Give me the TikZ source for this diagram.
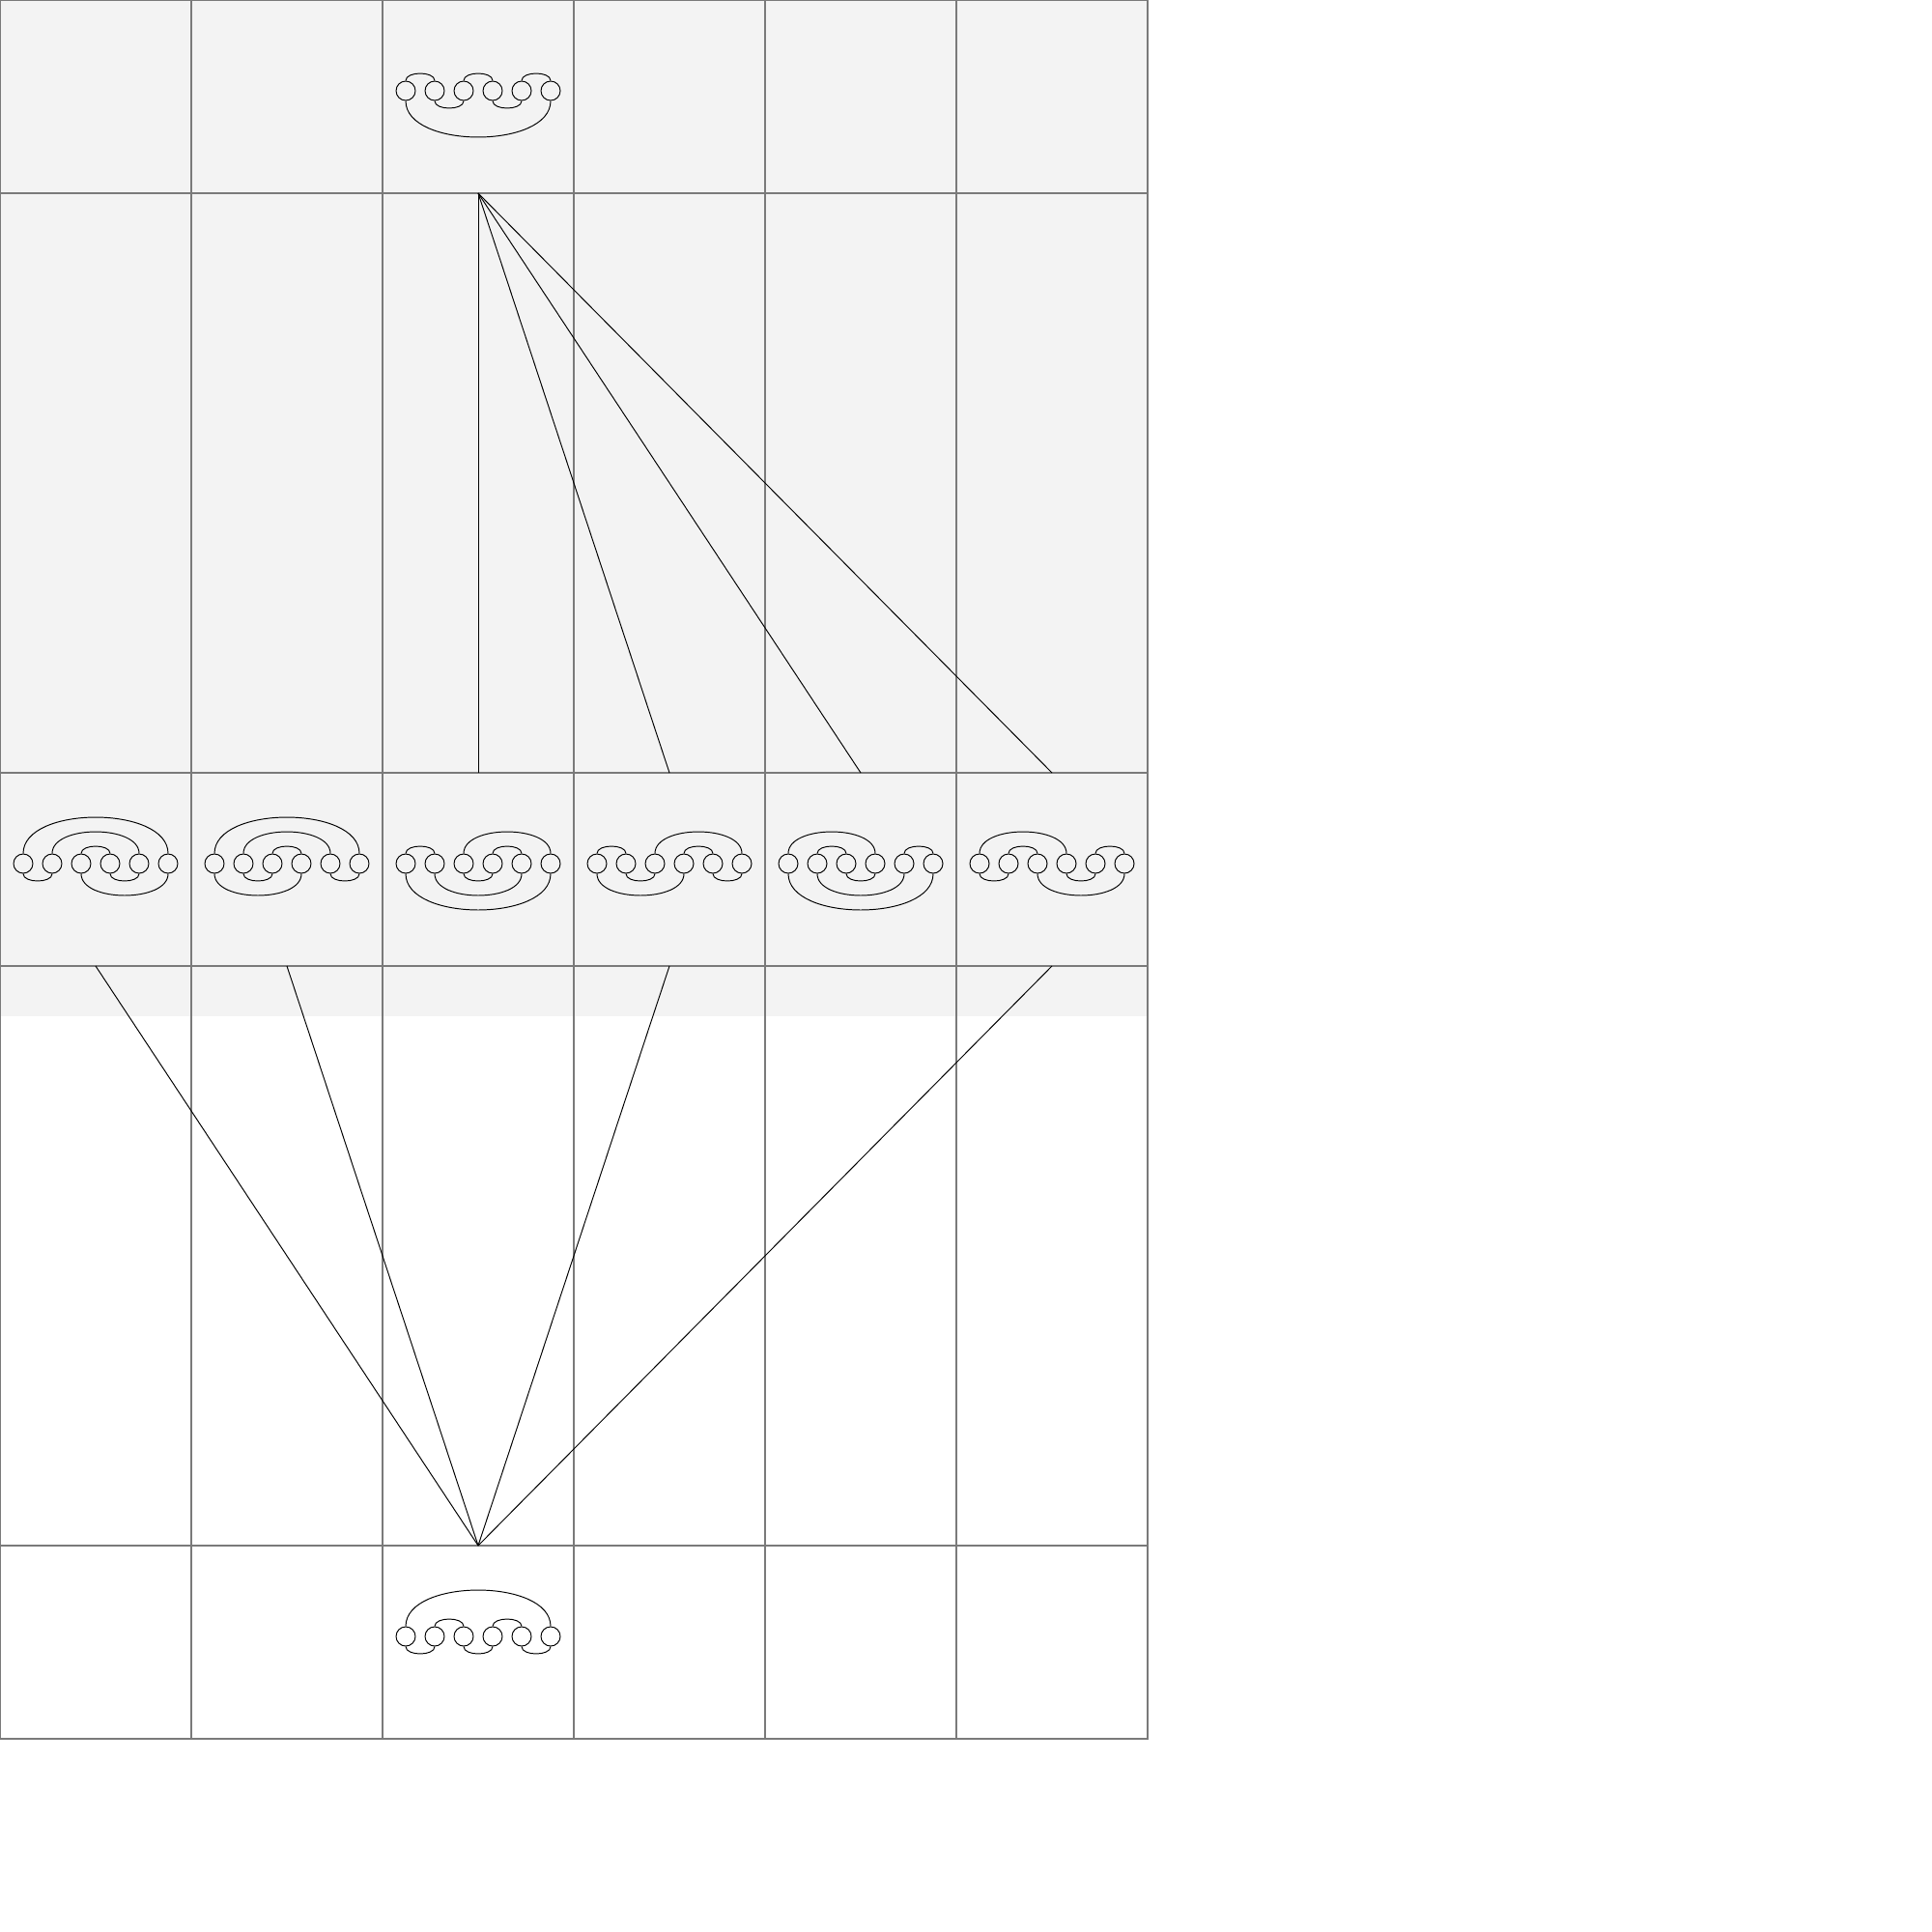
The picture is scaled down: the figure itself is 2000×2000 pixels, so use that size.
\documentclass[tikz,border=0pt]{standalone}
\usepackage{xcolor}
\usepackage{tikz}
\definecolor{panel}{HTML}{F3F3F3}
\definecolor{rule}{HTML}{7A7A7A}

\begin{document}
\begin{tikzpicture}[x=0.2mm, y=-0.2mm,
    cell/.style={draw=rule, line width=1.1pt, minimum width=39.6mm, inner sep=0pt, outer sep=0pt},
    bead/.style={draw, circle, line width=0.55pt, minimum size=4mm, inner sep=0pt},
    link/.style={line width=0.55pt}]
    \useasboundingbox (0,0) rectangle (2000,2000);
    \fill[panel] (0,0) rectangle (1188,1052);

    % --- grid ---
    \foreach \c in {0,...,5} {
        \node[cell, minimum height=40mm] (top\c) at (99+198*\c,100) {};
        \node[cell, minimum height=120mm] (up\c) at (99+198*\c,500) {};
        \node[cell, minimum height=40mm] (mid\c) at (99+198*\c,900) {};
        \node[cell, minimum height=120mm] (low\c) at (99+198*\c,1300) {};
        \node[cell, minimum height=40mm] (bot\c) at (99+198*\c,1700) {};
    }

    % --- connectors ---
    \foreach \c in {2,3,4,5} \draw[link] (top2.south) -- (mid\c.north);
    \foreach \c in {0,1,3,5} \draw[link] (mid\c.south) -- (bot2.north);

    % --- top diagram ---
    \foreach \i in {1,...,6} \node[bead] (t\i) at (390+30*\i,94) {};
    \foreach \a/\b in {1/2,3/4,5/6}
        \draw[link] (t\a.north) .. controls +(0,10*\a-10*\b) and +(0,10*\a-10*\b) .. (t\b.north);
    \foreach \a/\b in {2/3,4/5,1/6}
        \draw[link] (t\a.south) .. controls +(0,10*\b-10*\a) and +(0,10*\b-10*\a) .. (t\b.south);

    % --- middle row ---
    \foreach \c in {0,...,5}
        \foreach \i in {1,...,6} \node[bead] (m\c-\i) at (198*\c+30*\i-6,894) {};

    \foreach \a/\b in {1/6,2/5,3/4}
        \draw[link] (m0-\a.north) .. controls +(0,10*\a-10*\b) and +(0,10*\a-10*\b) .. (m0-\b.north);
    \foreach \a/\b in {1/2,3/6,4/5}
        \draw[link] (m0-\a.south) .. controls +(0,10*\b-10*\a) and +(0,10*\b-10*\a) .. (m0-\b.south);

    \foreach \a/\b in {1/6,2/5,3/4}
        \draw[link] (m1-\a.north) .. controls +(0,10*\a-10*\b) and +(0,10*\a-10*\b) .. (m1-\b.north);
    \foreach \a/\b in {2/3,5/6,1/4}
        \draw[link] (m1-\a.south) .. controls +(0,10*\b-10*\a) and +(0,10*\b-10*\a) .. (m1-\b.south);

    \foreach \a/\b in {1/2,3/6,4/5}
        \draw[link] (m2-\a.north) .. controls +(0,10*\a-10*\b) and +(0,10*\a-10*\b) .. (m2-\b.north);
    \foreach \a/\b in {3/4,2/5,1/6}
        \draw[link] (m2-\a.south) .. controls +(0,10*\b-10*\a) and +(0,10*\b-10*\a) .. (m2-\b.south);

    \foreach \a/\b in {1/2,3/6,4/5}
        \draw[link] (m3-\a.north) .. controls +(0,10*\a-10*\b) and +(0,10*\a-10*\b) .. (m3-\b.north);
    \foreach \a/\b in {2/3,1/4,5/6}
        \draw[link] (m3-\a.south) .. controls +(0,10*\b-10*\a) and +(0,10*\b-10*\a) .. (m3-\b.south);

    \foreach \a/\b in {1/4,2/3,5/6}
        \draw[link] (m4-\a.north) .. controls +(0,10*\a-10*\b) and +(0,10*\a-10*\b) .. (m4-\b.north);
    \foreach \a/\b in {3/4,2/5,1/6}
        \draw[link] (m4-\a.south) .. controls +(0,10*\b-10*\a) and +(0,10*\b-10*\a) .. (m4-\b.south);

    \foreach \a/\b in {1/4,2/3,5/6}
        \draw[link] (m5-\a.north) .. controls +(0,10*\a-10*\b) and +(0,10*\a-10*\b) .. (m5-\b.north);
    \foreach \a/\b in {1/2,4/5,3/6}
        \draw[link] (m5-\a.south) .. controls +(0,10*\b-10*\a) and +(0,10*\b-10*\a) .. (m5-\b.south);

    % --- bottom diagram ---
    \foreach \i in {1,...,6} \node[bead] (b\i) at (390+30*\i,1694) {};
    \foreach \a/\b in {1/6,2/3,4/5}
        \draw[link] (b\a.north) .. controls +(0,10*\a-10*\b) and +(0,10*\a-10*\b) .. (b\b.north);
    \foreach \a/\b in {1/2,3/4,5/6}
        \draw[link] (b\a.south) .. controls +(0,10*\b-10*\a) and +(0,10*\b-10*\a) .. (b\b.south);
\end{tikzpicture}
\end{document}
